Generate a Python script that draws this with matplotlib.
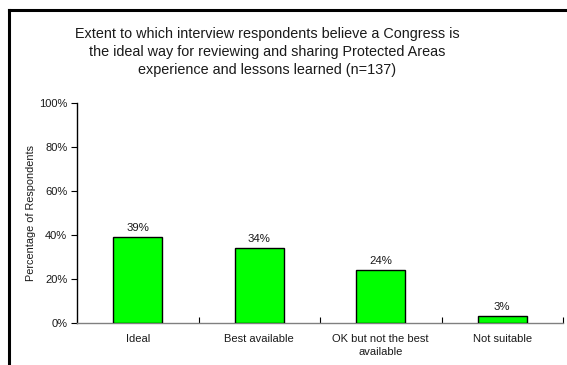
import matplotlib
matplotlib.use("Agg")
import matplotlib.pyplot as plt
from matplotlib.lines import Line2D

plt.rcParams['font.family'] = ['Liberation Sans', 'DejaVu Sans']

categories = ["Ideal", "Best available", "OK but not the best\navailable", "Not suitable"]
values = [39, 34, 24, 3]
value_labels = ["39%", "34%", "24%", "3%"]
y_ticks = [0, 20, 40, 60, 80, 100]
y_tick_labels = ["0%", "20%", "40%", "60%", "80%", "100%"]
title = ("Extent to which interview respondents believe a Congress is\n"
         "the ideal way for reviewing and sharing Protected Areas\n"
         "experience and lessons learned (n=137)")

W, H = 567, 365
fig = plt.figure(figsize=(W / 100, H / 100), dpi=100)

# outer chart-area frame (top and left edges visible)
fig.add_artist(Line2D([8.5 / W, 8.5 / W], [0, 1 - 9.5 / H], color="black", lw=2.2,
                      transform=fig.transFigure))
fig.add_artist(Line2D([8.5 / W, 1], [1 - 9.5 / H, 1 - 9.5 / H], color="black", lw=2.2,
                      transform=fig.transFigure))

left, right = 77 / W, 563 / W
bottom, top = 1 - 323 / H, 1 - 103 / H
ax = fig.add_axes([left, bottom, right - left, top - bottom])

txt_color = "#1a1a1a"
x = list(range(len(categories)))
ax.bar(x, values, width=0.4, color="#00ff00", edgecolor="black", linewidth=1.0, zorder=3)
for xi, v, lab in zip(x, values, value_labels):
    ax.text(xi, v + 1.8, lab, ha="center", va="bottom", fontsize=8.2, color=txt_color)

ax.set_xlim(-0.5, len(categories) - 0.5)
ax.set_ylim(0, 100)
ax.set_yticks(y_ticks)
ax.set_yticklabels(y_tick_labels, fontsize=8, color=txt_color)
ax.set_xticks([i + 0.5 for i in range(len(categories))])
ax.set_xticklabels([])
ax.set_xticks(x, minor=True)
ax.set_xticklabels(categories, minor=True, fontsize=8, linespacing=1.3, color=txt_color)
ax.tick_params(axis="x", which="minor", length=0, pad=8)
ax.tick_params(axis="x", which="major", length=4, direction="in", color="black", width=0.8)
ax.tick_params(axis="y", length=4, direction="out", width=0.8, pad=3)

for s in ["top", "right"]:
    ax.spines[s].set_visible(False)
ax.spines["left"].set_color("black")
ax.spines["left"].set_linewidth(1.0)
ax.spines["bottom"].set_color("#808080")
ax.spines["bottom"].set_linewidth(1.0)

ax.set_ylabel("Percentage of Respondents", fontsize=7.8, labelpad=2, color=txt_color)

fig.text(267 / W, 1 - 52 / H, title, ha="center", va="center", fontsize=10.4,
         linespacing=1.35, color=txt_color)

fig.savefig("out.png", dpi=100, facecolor="white")
